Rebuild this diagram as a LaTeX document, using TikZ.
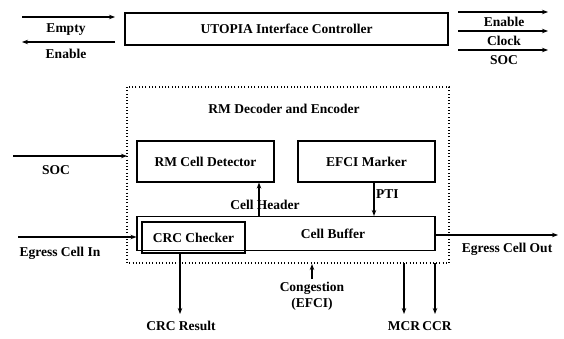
\documentclass[tikz,border=0pt]{standalone}
\usepackage{fontspec}
\setmainfont{Liberation Serif}
\usetikzlibrary{arrows.meta}
\begin{document}
\begin{tikzpicture}[x=1pt,y=-1pt,
  every node/.style={font=\bfseries\fontsize{13.5}{15}\selectfont, inner sep=0pt},
  blk/.style={draw, line width=1.1pt, rectangle},
  sig/.style={line width=1.1pt, -{Stealth[length=6pt,width=4.5pt]}},
  lbl/.style={anchor=center}]
\useasboundingbox (0,0) rectangle (564,339);

% UTOPIA interface controller with its handshake lines
\node[blk, minimum width=323pt, minimum height=32pt] (utopia) at (286.5,29) {UTOPIA Interface Controller};
\coordinate (eL1) at (22,17);  \coordinate (eR1) at (115,17);
\coordinate (eL2) at (22,42);  \coordinate (eR2) at (115,42);
\draw[sig] (eL1) -- (eR1);
\draw[sig] (eR2) -- (eL2);
\node[lbl] (empty) at (66,30) {Empty};
\node[lbl] (enableL) at (66,54) {Enable};

\coordinate (oA1) at (458,12); \coordinate (oA2) at (548,12);
\coordinate (oB1) at (458,31); \coordinate (oB2) at (548,31);
\coordinate (oC1) at (458,50); \coordinate (oC2) at (548,50);
\draw[sig] (oA1) -- (oA2);
\draw[sig] (oB1) -- (oB2);
\draw[sig] (oC1) -- (oC2);
\node[lbl] (enableR) at (504,22) {Enable};
\node[lbl] (clock) at (504,41) {Clock};
\node[lbl] (socR) at (504,60) {SOC};

% RM decoder / encoder block
\draw[line width=1.1pt, dash pattern=on 0.9pt off 2.4pt] (127,87) rectangle (449,263);
\node[lbl] (rmtitle) at (284,109) {RM Decoder and Encoder};

\node[blk, minimum width=137pt, minimum height=41pt] (detector) at (205.5,161.5) {RM Cell Detector};
\node[blk, minimum width=137pt, minimum height=41pt] (efci) at (366.5,161.5) {EFCI Marker};
\node[blk, minimum width=298pt, minimum height=34pt] (buffer) at (286,233.5) {};
\node[lbl] (bufferlbl) at (333,234) {Cell Buffer};
\node[blk, minimum width=103pt, minimum height=31pt] (crc) at (193.5,237.5) {CRC Checker};

% internal connections
\draw[sig] (buffer.north -| 259,0) -- (detector.south -| 259,0);
\node[lbl] (cellhdr) at (265,205) {Cell Header};
\draw[sig] (efci.south -| 374,0) -- (buffer.north -| 374,0);
\node[anchor=west] (pti) at (376,194) {PTI};

% inputs
\coordinate (socIn) at (13,156);
\draw[sig] (socIn) -- (127,156);
\node[lbl] (socL) at (56,170) {SOC};
\coordinate (egIn) at (18,237);
\draw[sig] (egIn) -- (buffer.west |- 0,237);
\node[lbl] (egInLbl) at (60,253) {Egress Cell In};

% outputs
\coordinate (egOut) at (558,235);
\draw[sig] (buffer.east |- 0,235) -- (egOut);
\node[lbl] (egOutLbl) at (507,249) {Egress Cell Out};

\coordinate (crcEnd) at (180,314);
\draw[sig] (crc.south -| crcEnd) -- (crcEnd);
\node[lbl] (crcRes) at (181,326) {CRC Result};

\coordinate (congStart) at (312,279);
\draw[sig] (congStart) -- (312,264);
\node[lbl] (cong) at (312,288) {Congestion};
\node[lbl] (efciL) at (312,304) {(EFCI)};

\coordinate (mcrEnd) at (404,314);
\coordinate (ccrEnd) at (435,314);
\draw[sig] (404,263) -- (mcrEnd);
\draw[sig] (435,263) -- (ccrEnd);
\node[lbl] (mcr) at (404,326) {MCR};
\node[lbl] (ccr) at (437,326) {CCR};
\end{tikzpicture}
\end{document}
